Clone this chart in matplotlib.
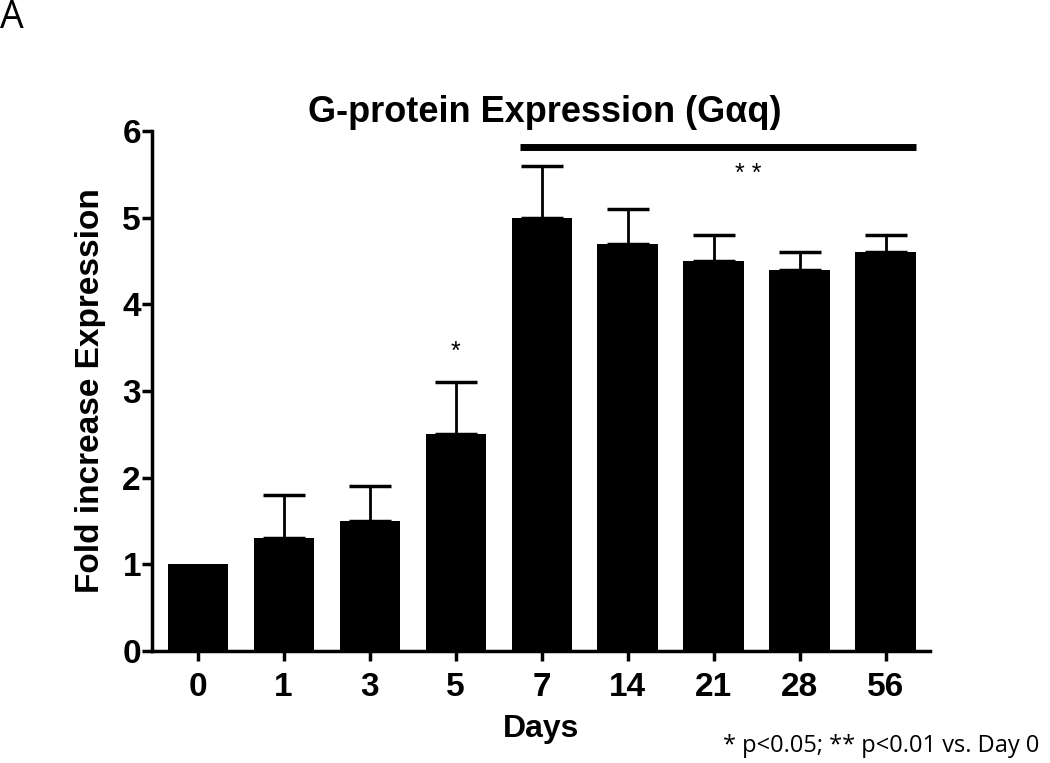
import matplotlib
matplotlib.use("Agg")
import matplotlib.pyplot as plt
import numpy as np

days = ["0", "1", "3", "5", "7", "14", "21", "28", "56"]
fold = [1.0, 1.3, 1.5, 2.5, 5.0, 4.7, 4.5, 4.4, 4.6]
err_up = [0.0, 0.5, 0.4, 0.6, 0.6, 0.4, 0.3, 0.2, 0.2]
yticks = [0, 1, 2, 3, 4, 5, 6]

plt.rcParams['font.family'] = ['Liberation Sans', 'DejaVu Sans']

fig = plt.figure(figsize=(10.5, 7.63), dpi=100)
ax = fig.add_axes([0.1448, 0.1468, 0.7412, 0.6815])

x = np.arange(len(days))
ax.bar(x, fold, width=0.7, color='black', zorder=2)
ax.errorbar(x[1:], fold[1:], yerr=[np.zeros(len(x) - 1), err_up[1:]], fmt='none',
            ecolor='black', elinewidth=2, capsize=15, capthick=2.5, zorder=1)

ax.set_xlim(-0.53, 8.52)
ax.set_ylim(0, 6)
ax.set_yticks(yticks)
ax.set_xticks(x)
ax.set_xticklabels(days)
for s in ['top', 'right']:
    ax.spines[s].set_visible(False)
for s in ['left', 'bottom']:
    ax.spines[s].set_linewidth(2.5)
ax.tick_params(axis='both', width=2.5, length=7, labelsize=24)
ax.tick_params(axis='x', pad=8)
ax.tick_params(axis='y', pad=1)
for lab in ax.get_xticklabels() + ax.get_yticklabels():
    lab.set_fontweight('bold')

ax.set_xlabel("Days", fontsize=23, fontweight='bold', labelpad=8)
ax.set_ylabel("Fold increase Expression", fontsize=24, fontweight='bold', labelpad=12)

# significance line and stars
ax.plot([3.75, 8.35], [5.81, 5.81], color='black', lw=5, solid_capstyle='butt', clip_on=False)
ax.text(6.4, 5.5, "* *", ha='center', va='center', fontsize=18)
ax.text(3.0, 3.45, "*", ha='center', va='center', fontsize=18)

fig.text(0.519, 0.853, "G-protein Expression (G\u03b1q)", ha='center', va='center',
         fontsize=26, fontweight='bold')
fig.text(0.0, 0.977, "A", ha='left', va='center', fontsize=27, family='Open Sans')
fig.text(0.99, 0.022, "* p<0.05; ** p<0.01 vs. Day 0", ha='right', va='center',
         fontsize=17, family='Open Sans')

fig.savefig("out.png", dpi=100)
